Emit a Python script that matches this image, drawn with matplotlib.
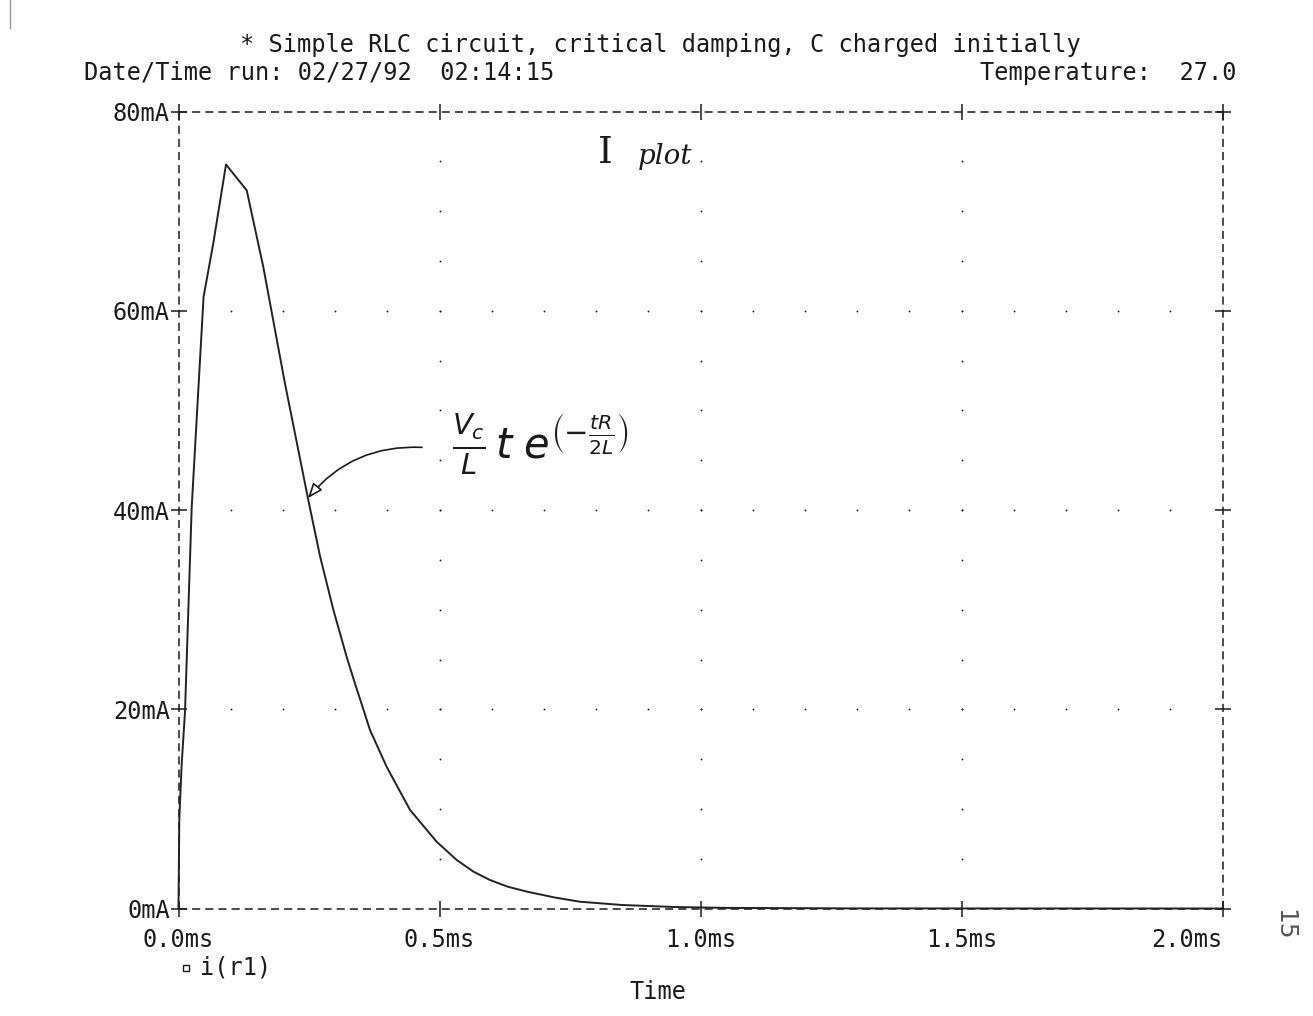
import numpy as np
import matplotlib.pyplot as plt
from matplotlib.lines import Line2D
# PSpice style transient plot, i(r1) of an RLC circuit

W, H = 1313, 1016

# readings (time in ms, current in mA)
time_ms = [0, 0.0015, 0.006, 0.0125, 0.0253, 0.038, 0.048, 0.0667, 0.091,
           0.1307, 0.1625, 0.204, 0.2487, 0.271, 0.2966, 0.322, 0.335, 0.367,
           0.399, 0.4435, 0.4946, 0.533, 0.565, 0.5967, 0.63, 0.667, 0.72,
           0.769, 0.85, 0.95, 1.05, 1.3, 2.0]
current_ma = [0, 8.9, 14.4, 19.8, 40.3, 52.1, 61.4, 66.8, 74.7,
              72.1, 64.4, 52.7, 41.0, 35.4, 30.0, 25.3, 23.1, 17.9,
              14.2, 9.9, 6.7, 4.87, 3.7, 2.86, 2.2, 1.7, 1.11,
              0.68, 0.35, 0.15, 0.06, 0.01, 0]

xticks = [0, 0.5, 1.0, 1.5, 2.0]
xlabels = ["0.0ms", "0.5ms", "1.0ms", "1.5ms", "2.0ms"]
yticks = [0, 20, 40, 60, 80]
ylabels = ["0mA", "20mA", "40mA", "60mA", "80mA"]

title = "* Simple RLC circuit, critical damping, C charged initially"
run_info = "Date/Time run: 02/27/92  02:14:15"
temp_info = "Temperature:  27.0"

mono = "DejaVu Sans Mono"
ink = "#1a1a1a"
fs = 17

def px(x, y):
    # pixel position -> figure fraction
    return x / W, 1 - y / H

fig = plt.figure(figsize=(W / 100, H / 100), dpi=100)
ax = fig.add_axes([178.5 / W, 1 - 908.5 / H, (1222.5 - 178.5) / W, (908.5 - 111.7) / H])
ax.set_xlim(0, 2.0)
ax.set_ylim(0, 80)

# dashed frame
for spine in ax.spines.values():
    spine.set_visible(False)
for xs, ys in [([0, 1], [0, 0]), ([0, 1], [1, 1]), ([0, 0], [0, 1]), ([1, 1], [0, 1])]:
    ax.plot(xs, ys, transform=ax.transAxes, color=ink, lw=1.1,
            dashes=(5.3, 3.3), clip_on=False, zorder=1)

# dotted grid
gx = np.arange(1, 20) * 0.1
for yv in [20, 40, 60]:
    ax.plot(gx, [yv] * len(gx), ls="none", marker="o", ms=1.3, color=ink, mew=0)
gy = np.arange(1, 16) * 5
for xv in [0.5, 1.0, 1.5]:
    ax.plot([xv] * len(gy), gy, ls="none", marker="o", ms=1.3, color=ink, mew=0)

ax.plot(time_ms, current_ma, color="#222222", lw=1.4, zorder=3, clip_on=False)

ax.set_xticks(xticks)
ax.set_xticklabels(xlabels)
ax.set_yticks(yticks)
ax.set_yticklabels(ylabels)
ax.tick_params(direction="inout", length=11.5, width=1.1, color=ink,
               top=True, right=True, labelsize=fs, labelcolor=ink)
ax.tick_params(axis="x", pad=8)
ax.tick_params(axis="y", pad=0.5)
for lab in ax.get_xticklabels() + ax.get_yticklabels():
    lab.set_family(mono)
ax.get_xticklabels()[-1].set_ha("right")

# header
fig.text(*px(660, 45), title, family=mono, fontsize=fs, color=ink, ha="center", va="center")
fig.text(*px(84, 73), run_info, family=mono, fontsize=fs, color=ink, ha="left", va="center")
fig.text(*px(1237, 73), temp_info, family=mono, fontsize=fs, color=ink, ha="right", va="center")

# legend and axis title
fig.add_artist(Line2D([186 / W], [1 - 968 / H], marker="s", ms=4.5, mfc="white",
                      mec=ink, mew=1.0, transform=fig.transFigure))
fig.text(*px(200, 967), "i(r1)", family=mono, fontsize=fs, color=ink, ha="left", va="center")
fig.text(*px(658, 992), "Time", family=mono, fontsize=fs, color=ink, ha="center", va="center")

# handwritten notes
fig.text(*px(605, 153), "I", family="DejaVu Serif", fontsize=27, color=ink,
         ha="center", va="center")
fig.text(*px(665, 157), "plot", family="DejaVu Serif", style="italic", fontsize=20,
         color=ink, ha="center", va="center")
fig.text(*px(452, 458), r"$\frac{V_c}{L}\,t\;e^{\left(-\frac{tR}{2L}\right)}$",
         fontsize=30, color=ink, ha="left", va="baseline")
ax.annotate("", xy=(0.248, 41.2), xytext=(0.4665, 46.3),
            arrowprops=dict(arrowstyle="-|>,head_length=0.9,head_width=0.35",
                            connectionstyle="arc3,rad=0.25", fc="white",
                            ec=ink, lw=1.2, mutation_scale=10, shrinkA=0, shrinkB=0))

# page number in the margin
fig.text(*px(1284, 925), "15", fontsize=18, color="#555555", rotation=-90,
         ha="center", va="center")
fig.add_artist(Line2D([10 / W, 10 / W], [1, 1 - 28 / H], color="#999999", lw=1,
                      transform=fig.transFigure))

fig.savefig("out.png", dpi=100)
